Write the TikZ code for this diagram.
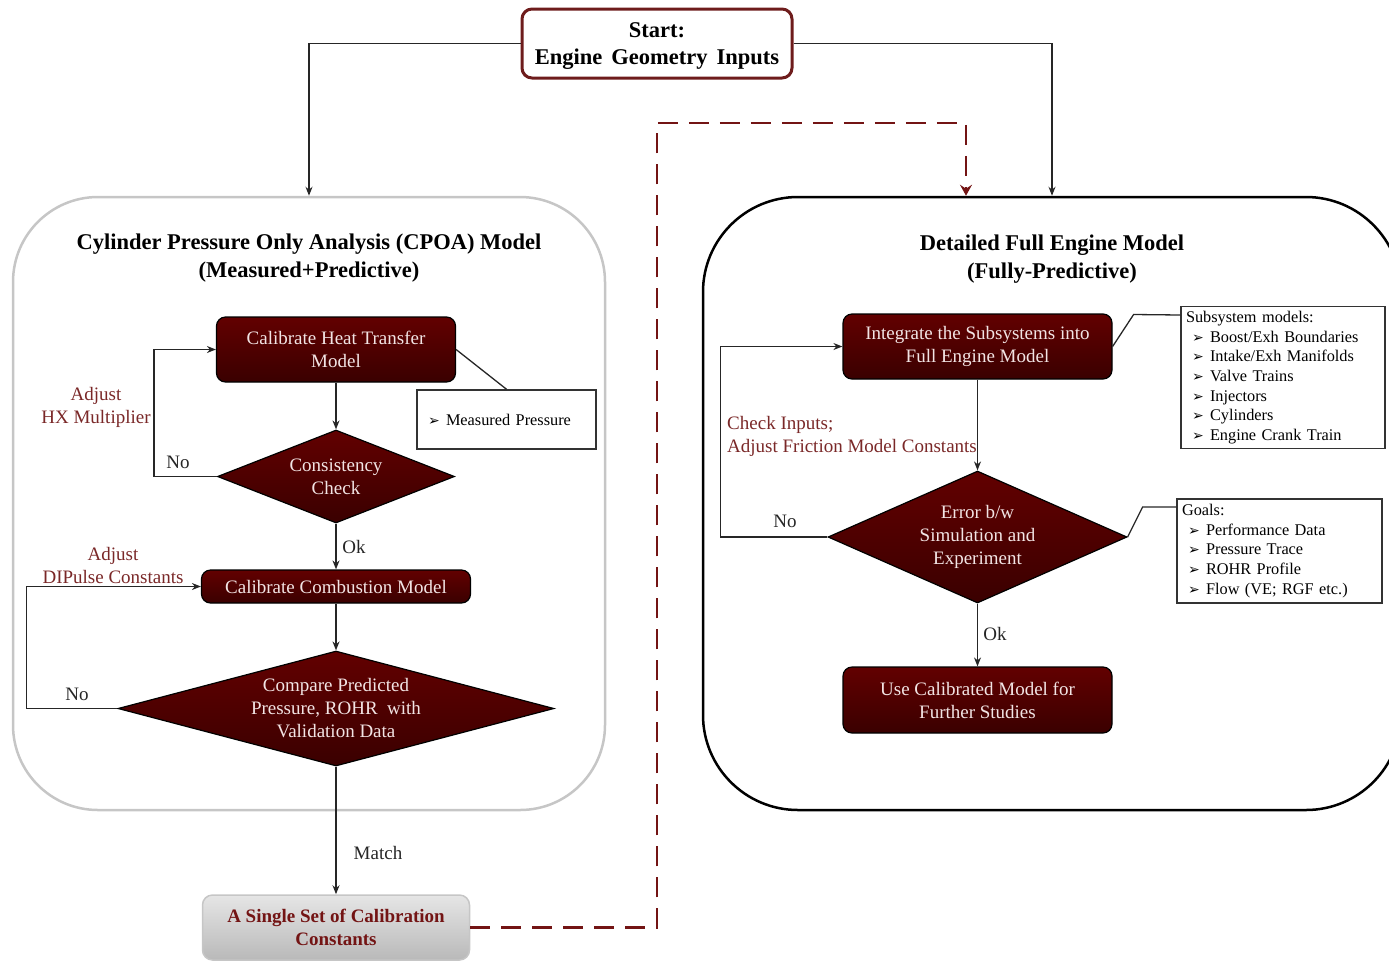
\documentclass[tikz,border=0pt]{standalone}
\usepackage{fontspec}
\setmainfont{Liberation Serif}
\newfontfamily\symfnt{DejaVu Sans}
\usetikzlibrary{shapes.geometric,arrows.meta}
\definecolor{boxtop}{RGB}{98,0,0}
\definecolor{boxbot}{RGB}{58,0,0}
\definecolor{boxtxt}{RGB}{242,228,228}
\definecolor{lblred}{RGB}{122,40,40}
\definecolor{dashred}{RGB}{115,20,20}
\definecolor{startred}{RGB}{110,28,28}
\newcommand{\bul}{\makebox[18pt][l]{\symfnt\fontsize{14}{14}\selectfont ➢}}
\newcommand{\itm}[1]{\hspace*{6pt}\bul#1}
\begin{document}
\begin{tikzpicture}[x=1pt,y=-1pt,
  every node/.style={font=\fontsize{19}{23}\selectfont},
  arr/.style={draw=black!85, line width=1.3pt, -{Stealth[length=9pt,width=7pt]}},
  ln/.style={draw=black!85, line width=1.3pt},
  procbox/.style={rectangle, rounded corners=9pt, draw=black, line width=1.2pt, top color=boxtop, bottom color=boxbot, text=boxtxt, align=center, inner sep=0pt},
  decbox/.style={diamond, draw=black, line width=1.2pt, top color=boxtop, bottom color=boxbot, text=boxtxt, align=center, inner sep=0pt},
  listbox/.style={rectangle, draw=black!80, line width=1.5pt, fill=white, align=left, inner sep=5pt, font=\fontsize{16.3}{19.6}\selectfont},
  redlbl/.style={text=lblred, align=center},
  lbl/.style={text=black!85},
  dasharr/.style={draw=dashred, line width=2.6pt, dash pattern=on 20pt off 11pt, -{Stealth[length=11pt,width=12pt,inset=4pt]}},
]
\useasboundingbox (0,0) rectangle (1389,962);
\clip (0,0) rectangle (1389,962);

% containers
\node[draw=gray!45, line width=2.5pt, rounded corners=85pt, minimum width=592pt, minimum height=613pt, inner sep=0pt] (cpoa) at (309,503.5) {};
\node[draw=black, line width=2.5pt, rounded corners=95pt, minimum width=698pt, minimum height=613pt, inner sep=0pt] (fem) at (1052,503.5) {};

\node[font=\bfseries\fontsize{22.5}{28}\selectfont, align=center] (cpoat) at (309,258) {Cylinder Pressure Only Analysis (CPOA) Model\\(Measured+Predictive)};
\node[font=\bfseries\fontsize{22.5}{28}\selectfont, align=center] (femt) at (1052,259) {Detailed Full Engine Model\\(Fully-Predictive)};

% start
\node[draw=startred, line width=3pt, rounded corners=10pt, fill=white, minimum width=270pt, minimum height=69pt, align=center, inner sep=0pt, font=\bfseries\fontsize{22.5}{27}\selectfont] (start) at (657,43.5) {\rule{0pt}{20pt}Start:\\Engine\hspace{9pt}Geometry\hspace{9pt}Inputs};

% left flow
\node[procbox, minimum width=239pt, minimum height=65pt] (heat) at (336,349.5) {Calibrate Heat Transfer\\Model};
\node[decbox, aspect=2.55, minimum width=237pt, minimum height=93pt] (cc) at (336,476.5) {Consistency\\Check};
\node[procbox, minimum width=269pt, minimum height=33pt] (comb) at (336,586.5) {Calibrate Combustion Model};
\node[decbox, aspect=3.79, minimum width=436pt, minimum height=115pt] (cmp) at (336,708.5) {Compare Predicted\\Pressure, ROHR\ \ with\\Validation Data};
\node[rectangle, rounded corners=10pt, draw=gray!45, line width=1.5pt, top color=gray!20, bottom color=gray!55, text=dashred, align=center, inner sep=0pt, minimum width=267pt, minimum height=65pt, font=\bfseries\fontsize{19}{23}\selectfont] (single) at (336,927.5) {A Single Set of Calibration\\Constants};
\node[listbox, minimum width=179pt, minimum height=59pt, text width=169pt] (mp) at (506.5,419.5) {\itm{Measured Pressure}};

% right flow
\node[procbox, minimum width=269pt, minimum height=65pt] (integ) at (977.5,346.5) {Integrate the Subsystems into\\Full Engine Model};
\node[decbox, aspect=2.27, minimum width=299pt, minimum height=132pt] (err) at (977.5,537) {Error b/w\\Simulation and\\Experiment};
\node[procbox, minimum width=269pt, minimum height=66pt] (use) at (977.5,700) {Use Calibrated Model for\\Further Studies};
\node[listbox, minimum width=204pt, minimum height=139pt, text width=194pt] (sub) at (1283,377.5) {Subsystem models:\\\itm{Boost/Exh Boundaries}\\\itm{Intake/Exh Manifolds}\\\itm{Valve Trains}\\\itm{Injectors}\\\itm{Cylinders}\\\itm{Engine Crank Train}};
\node[listbox, minimum width=205pt, minimum height=104pt, text width=195pt] (goals) at (1279.5,551) {Goals:\\\itm{Performance Data}\\\itm{Pressure Trace}\\\itm{ROHR Profile}\\\itm{Flow (VE; RGF etc.)}};

% connectors
\draw[arr] (start.west) -| (cpoa.north);
\draw[arr] (start.east) -| (fem.north);
\draw[arr] (heat.south) -- (cc.north);
\draw[arr] (cc.west) -- ++(-63,0) |- (heat.west);
\draw[arr] (cc.south) -- (comb.north);
\draw[arr] (comb.south) -- (cmp.north);
\draw[arr] (cmp.west) -- ++(-91,0) |- (comb.west);
\draw[arr] (cmp.south) -- (single.north);
\draw[ln] (heat.east) -- (mp.north);

\coordinate (d1) at (657,123);
\coordinate (d2) at (966,123);
\draw[dasharr] (single.east) -| (d1) -- (d2) -- (d2 |- fem.north);

\draw[arr] (integ.south) -- (err.north);
\draw[arr] (err.west) -- ++(-107,0) |- (integ.west);
\draw[arr] (err.south) -- (use.north);
\draw[ln] (integ.east) -- ++(21,-32) -- (sub.west |- 0,315);
\draw[ln] (err.east) -- ++(15,-30) -- (goals.west |- 0,507);

% labels
\node[lbl] (no1) at (178,462) {No};
\node[redlbl] (adj1) at (96,407.5) {Adjust\\HX Multiplier};
\node[lbl] (ok1) at (354,547) {Ok};
\node[redlbl] (adj2) at (113,565) {Adjust\\DIPulse Constants};
\node[lbl] (no2) at (77,694) {No};
\node[lbl] (match) at (378,853) {Match};
\node[lbl] (no3) at (785,521) {No};
\node[redlbl, align=left, anchor=west, inner sep=0pt] (chk) at (727,436.5) {Check Inputs;\\Adjust Friction Model Constants};
\node[lbl] (ok2) at (995,634) {Ok};
\end{tikzpicture}
\end{document}
